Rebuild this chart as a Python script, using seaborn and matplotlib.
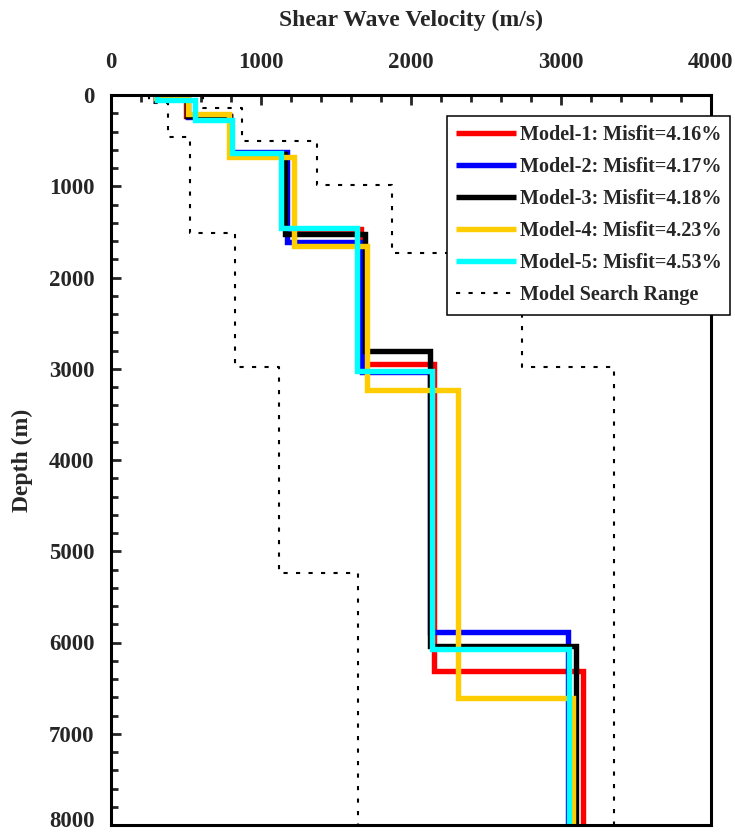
import numpy as np
import pandas as pd
import matplotlib
matplotlib.use("Agg")
import matplotlib.pyplot as plt
import seaborn as sns
from matplotlib.ticker import MultipleLocator
from matplotlib.transforms import ScaledTranslation

# ---------------- data ----------------
model_names = [
    "Model-1: Misfit=4.16%",
    "Model-2: Misfit=4.17%",
    "Model-3: Misfit=4.18%",
    "Model-4: Misfit=4.23%",
    "Model-5: Misfit=4.53%",
]
model_colors = ["#FF0000", "#0000FF", "#000000", "#FFCC00", "#00FFFF"]

# layer shear-wave velocities (m/s) and layer bottom depths (m)
m1_vs = [300, 500, 790, 1165, 1665, 2155, 3145]
m1_bottoms = [40, 230, 640, 1470, 2950, 6310]
m2_vs = [300, 515, 795, 1175, 1675, 2128, 3045]
m2_bottoms = [40, 245, 630, 1615, 3035, 5890]
m3_vs = [300, 505, 795, 1160, 1690, 2125, 3100]
m3_bottoms = [40, 235, 645, 1520, 2800, 6035]
m4_vs = [300, 510, 785, 1220, 1705, 2315, 3080]
m4_bottoms = [35, 211, 676, 1651, 3233, 6612]
m5_vs = [305, 560, 805, 1131, 1638, 2140, 3050]
m5_bottoms = [60, 274, 640, 1461, 3021, 6071]

range_min_vs = [250, 378, 527, 827, 1120, 1645]
range_min_bottoms = [90, 460, 1512, 2981, 5238]
range_max_vs = [613, 871, 1373, 1873, 2740, 3355]
range_max_bottoms = [140, 500, 986, 1732, 2981]
range_label = "Model Search Range"

max_depth = 8000
x_ticks = [0, 1000, 2000, 3000, 4000]
y_ticks = [0, 1000, 2000, 3000, 4000, 5000, 6000, 7000, 8000]
x_label = "Shear Wave Velocity (m/s)"
y_label = "Depth (m)"


def step_profile(vs, bottoms):
    tops = [0] + list(bottoms)
    ends = list(bottoms) + [max_depth]
    xs, ys = [], []
    for v, t, b in zip(vs, tops, ends):
        xs += [v, v]
        ys += [t, b]
    return pd.DataFrame({"Velocity": xs, "Depth": ys})


# ---------------- figure ----------------
sns.set_style("white")
plt.rcParams["font.family"] = ["Liberation Serif", "DejaVu Serif"]
plt.rcParams["font.weight"] = "bold"

fig = plt.figure(figsize=(7.35, 8.34), dpi=100)
ax = fig.add_axes([111 / 735, 1 - 825 / 834, 600 / 735, 730 / 834])

range_handles = []
for vs, bt, lab in [(range_min_vs, range_min_bottoms, range_label),
                    (range_max_vs, range_max_bottoms, "_nolegend_")]:
    sns.lineplot(data=step_profile(vs, bt), x="Velocity", y="Depth",
                 sort=False, estimator=None, color="black", lw=1.5,
                 linestyle=(0, (2, 4)), ax=ax, label=lab, legend=False)
    range_handles.append(ax.get_lines()[-1])

model_profiles = [(m1_vs, m1_bottoms), (m2_vs, m2_bottoms), (m3_vs, m3_bottoms),
                  (m4_vs, m4_bottoms), (m5_vs, m5_bottoms)]
model_handles = []
for (vs, bt), name, col in zip(model_profiles, model_names, model_colors):
    sns.lineplot(data=step_profile(vs, bt), x="Velocity", y="Depth",
                 sort=False, estimator=None, color=col, lw=3.9, ax=ax,
                 label=name, legend=False)
    ln = ax.get_lines()[-1]
    ln.set_solid_joinstyle("miter")
    ln.set_solid_capstyle("butt")
    model_handles.append(ln)

ax.set_xlim(0, 4000)
ax.set_ylim(max_depth, 0)
ax.set_xticks(x_ticks)
ax.set_yticks(y_ticks)
ax.xaxis.set_minor_locator(MultipleLocator(200))
ax.yaxis.set_minor_locator(MultipleLocator(200))

ax.xaxis.set_label_position("top")
ax.set_xlabel(x_label, fontsize=17, fontweight="bold", labelpad=19)
ax.set_ylabel(y_label, fontsize=17, fontweight="bold", labelpad=11)

ax.tick_params(axis="x", which="both", top=True, bottom=False,
               labeltop=True, labelbottom=False, direction="in", width=2)
ax.tick_params(axis="y", which="both", left=True, right=False,
               direction="in", width=2)
ax.tick_params(which="major", length=7.5)
ax.tick_params(which="minor", length=5)
ax.tick_params(axis="x", which="major", pad=15.5, labelsize=16.5)
ax.tick_params(axis="y", which="major", pad=12, labelsize=16.5)
for lab in ax.get_xticklabels() + ax.get_yticklabels():
    lab.set_fontweight("bold")

# nudge the bottom depth label slightly up so it stays inside the figure
last_lab = ax.yaxis.get_major_ticks()[-1].label1
last_lab.set_transform(last_lab.get_transform()
                       + ScaledTranslation(0, 4 / 72, fig.dpi_scale_trans))

for sp in ax.spines.values():
    sp.set_linewidth(2.2)
    sp.set_color("black")
    sp.set_visible(True)

leg = ax.legend(model_handles + range_handles[:1],
                model_names + [range_label],
                loc="upper left", bbox_to_anchor=(447 / 735, 1 - 116 / 834),
                bbox_transform=fig.transFigure, frameon=True, fancybox=False,
                edgecolor="black", framealpha=1, borderpad=0.45,
                handlelength=3.0, handletextpad=0.15, labelspacing=0.6,
                borderaxespad=0,
                prop={"family": ["Liberation Serif"], "weight": "bold", "size": 14.5})
leg.get_frame().set_linewidth(1.1)

fig.savefig("out.png", dpi=100)
